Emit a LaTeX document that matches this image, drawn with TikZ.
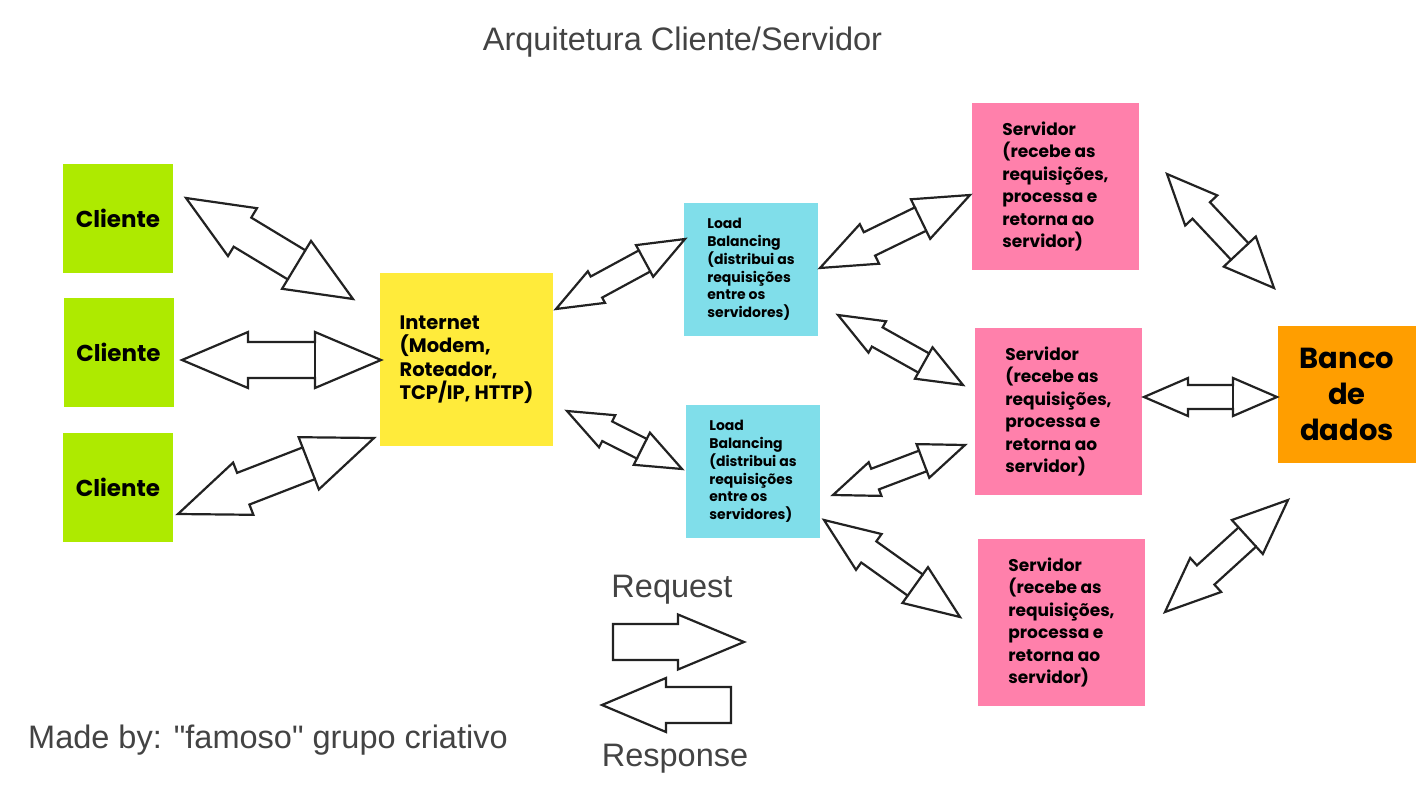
\documentclass[tikz,border=0pt]{standalone}
\usepackage{fontspec}
\setmainfont{Liberation Sans}
\newfontfamily\labelfont{Liberation Sans}
\newfontfamily\boxfont{Poppins}
\usetikzlibrary{calc}
\definecolor{cgreen}{HTML}{AEEA00}
\definecolor{cyellow}{HTML}{FFEB3B}
\definecolor{ccyan}{HTML}{80DEEA}
\definecolor{cpink}{HTML}{FF80AB}
\definecolor{corange}{HTML}{FF9E00}
\definecolor{cline}{HTML}{222222}
\definecolor{ctext}{HTML}{434343}
\tikzset{
  box/.style={rectangle, inner sep=0pt, align=left, text=black},
  arrowline/.style={draw=cline, fill=white, line width=2.2pt, line join=miter},
  lbl/.style={text=ctext, font=\labelfont\fontsize{32.5}{38}\selectfont, inner sep=0pt},
}
% double block arrow: #1 tip A, #2 tip B, #3 head length, #4 half head width, #5 half shaft width
\newcommand\dblarrow[5]{%
  \draw[arrowline] (#1) -- ($(#1)!#3pt!(#2)!#4pt!90:(#2)$) -- ($(#1)!#3pt!(#2)!#5pt!90:(#2)$)
    -- ($(#2)!#3pt!(#1)!#5pt!-90:(#1)$) -- ($(#2)!#3pt!(#1)!#4pt!-90:(#1)$) -- (#2)
    -- ($(#2)!#3pt!(#1)!#4pt!90:(#1)$) -- ($(#2)!#3pt!(#1)!#5pt!90:(#1)$)
    -- ($(#1)!#3pt!(#2)!#5pt!-90:(#2)$) -- ($(#1)!#3pt!(#2)!#4pt!-90:(#2)$) -- cycle;
  \draw[arrowline] ($(#2)!#3pt!(#1)!#5pt!-90:(#1)$) -- ($(#2)!#3pt!(#1)!#5pt!90:(#1)$);
}
% single block arrow: #1 tail centre, #2 tip
\newcommand\sglarrow[5]{%
  \draw[arrowline] ($(#1)!#5pt!90:(#2)$) -- ($(#2)!#3pt!(#1)!#5pt!-90:(#1)$)
    -- ($(#2)!#3pt!(#1)!#4pt!-90:(#1)$) -- (#2) -- ($(#2)!#3pt!(#1)!#4pt!90:(#1)$)
    -- ($(#2)!#3pt!(#1)!#5pt!90:(#1)$) -- ($(#1)!#5pt!-90:(#2)$) -- cycle;
}
\begin{document}
\begin{tikzpicture}[x=1pt,y=-1pt]
\useasboundingbox[fill=white] (0,0) rectangle (1422,800);

% title and labels
\node[lbl] (title) at (682.5,42) {Arquitetura Cliente/Servidor};
\node[lbl] (req) at (672,590) {Request};
\node[lbl] (resp) at (675,759) {Response};
\node[lbl, anchor=west] (made) at (28,740) {Made by: "famoso" grupo criativo};

% boxes
\tikzset{cl/.style={box, fill=cgreen, minimum width=110pt, minimum height=109pt,
  font=\boxfont\bfseries\fontsize{23}{27}\selectfont}}
\node[cl] (c1) at (118,218.5) {Cliente};
\node[cl] (c2) at (118.5,352.5) {Cliente};
\node[cl] (c3) at (118,487.5) {Cliente};
\node[box, fill=cyellow, minimum width=173pt, minimum height=173pt,
  font=\boxfont\bfseries\fontsize{19.5}{23.5}\selectfont] (inet) at (466.5,359.5)
  {Internet\\(Modem,\\Roteador,\\TCP/IP, HTTP)};
\tikzset{lb/.style={box, fill=ccyan, minimum width=134pt, minimum height=133pt,
  font=\boxfont\bfseries\fontsize{14}{17.8}\selectfont}}
\node[lb] (lb1) at (751,269.5) {Load\\Balancing\\(distribui as\\requisições\\entre os\\servidores)};
\node[lb] (lb2) at (753,471.5) {Load\\Balancing\\(distribui as\\requisições\\entre os\\servidores)};
\tikzset{srv/.style={box, fill=cpink, minimum width=167pt, minimum height=167pt,
  font=\boxfont\bfseries\fontsize{17}{22.4}\selectfont}}
\node[srv] (s1) at (1055.5,186.5) {Servidor\\(recebe as\\requisições,\\processa e\\retorna ao\\servidor)};
\node[srv] (s2) at (1058.5,411.5) {Servidor\\(recebe as\\requisições,\\processa e\\retorna ao\\servidor)};
\node[srv] (s3) at (1061.5,622.5) {Servidor\\(recebe as\\requisições,\\processa e\\retorna ao\\servidor)};
\node[box, fill=corange, minimum width=138pt, minimum height=137pt, align=center,
  font=\boxfont\bfseries\fontsize{29}{36}\selectfont] (db) at (1347,394.5) {Banco\\de\\dados};

% arrow tips
\coordinate (a1s) at (186,198);  \coordinate (a1e) at (353,299);
\coordinate (a2s) at (182,360);  \coordinate (a2e) at (381,360);
\coordinate (a3s) at (178,514);  \coordinate (a3e) at (374,438);
\coordinate (a4s) at (556,309);  \coordinate (a4e) at (685,239);
\coordinate (a5s) at (567,411);  \coordinate (a5e) at (682,469);
\coordinate (a6s) at (820,268);  \coordinate (a6e) at (970,195);
\coordinate (a7s) at (838,315);  \coordinate (a7e) at (963,385);
\coordinate (a8s) at (833,495);  \coordinate (a8e) at (965,445);
\coordinate (a9s) at (824,520);  \coordinate (a9e) at (960,617);
\coordinate (a10s) at (1167,174); \coordinate (a10e) at (1274,288);
\coordinate (a11s) at (1144,397); \coordinate (a11e) at (1277,397);
\coordinate (a12s) at (1165,612); \coordinate (a12e) at (1288,500);

\dblarrow{a1s}{a1e}{66}{28}{17}
\dblarrow{a2s}{a2e}{66}{28}{18}
\dblarrow{a3s}{a3e}{70}{28}{17}
\dblarrow{a4s}{a4e}{46}{18}{12}
\dblarrow{a5s}{a5e}{45}{18}{11}
\dblarrow{a6s}{a6e}{55}{22}{13}
\dblarrow{a7s}{a7e}{45}{18}{11}
\dblarrow{a8s}{a8e}{45}{18}{11}
\dblarrow{a9s}{a9e}{55}{22}{13}
\dblarrow{a10s}{a10e}{50}{22}{12}
\dblarrow{a11s}{a11e}{44}{19}{12}
\dblarrow{a12s}{a12e}{55}{23}{13}

% legend arrows
\coordinate (rqs) at (613,642); \coordinate (rqe) at (744,642);
\coordinate (rss) at (731,705); \coordinate (rse) at (602,705);
\sglarrow{rqs}{rqe}{66}{27.5}{18}
\sglarrow{rss}{rse}{64}{27}{18}
\end{tikzpicture}
\end{document}
